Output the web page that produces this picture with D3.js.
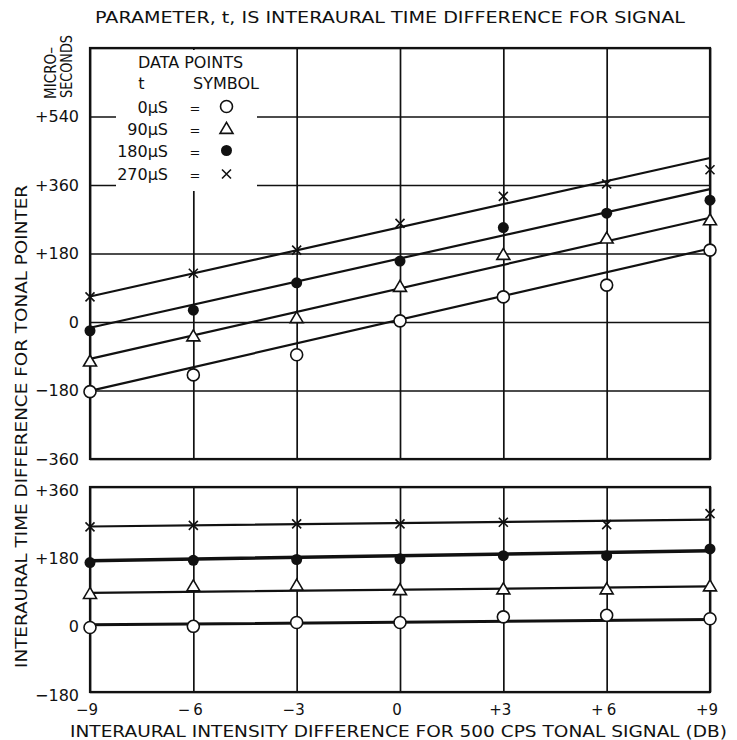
<!DOCTYPE html>
<html>
<head>
<meta charset="utf-8">
<script src="https://cdn.jsdelivr.net/npm/d3@7"></script>
<style>
  html, body { margin: 0; padding: 0; background: #fff; }
  svg { display: block; }
  text { font-family: "DejaVu Sans", "Liberation Sans", sans-serif; fill: #111; }
</style>
</head>
<body>
<svg id="chart" width="737" height="740"></svg>
<script>
// Interaural intensity difference (dB) at which points were measured
const intensityDb = [-9, -6, -3, 0, 3, 6, 9];
const xTickLabels = ["\u22129", "\u2212\u20096", "\u22123", "0", "+3", "+\u20096", "+9"];

// Signal parameter t (interaural time difference) for each series
const seriesLabels = ["0\u03bcS", "90\u03bcS", "180\u03bcS", "270\u03bcS"];
const seriesSymbols = ["circle", "triangle", "dot", "cross"];

// Upper panel: pointer time difference (microseconds) per series
const upper0 = [-183, -139, -86, 3, 66, 97, 189];
const upper90 = [-104, -38, 10, 92, 176, 219, 267];
const upper180 = [-23, 31, 103, 160, 248, 286, 320];
const upper270 = [66, 128, 189, 259, 330, 363, 400];
// Upper panel fitted lines: values at -9 dB and at +9 dB
const upperFitStart = [-181, -97, -15, 67];
const upperFitEnd = [193, 274, 349, 431];

// Lower panel: pointer time difference (microseconds) per series
const lower0 = [-10, -7, 3, 3, 18, 22, 13];
const lower90 = [78, 98, 100, 88, 90, 90, 98];
const lower180 = [161, 167, 169, 171, 179, 179, 197];
const lower270 = [255, 259, 263, 263, 267, 261, 290];
// Lower panel fitted lines: values at -9 dB and at +9 dB
const lowerFitStart = [-3, 81, 166, 256];
const lowerFitEnd = [11, 98, 192, 274];

// Axis ticks
const upperGrid = [720, 540, 360, 180, 0, -180, -360];
const upperTicks = [540, 360, 180, 0, -180, -360];
const upperTickLabels = ["+540", "+360", "+180", "0", "\u2212180", "\u2212360"];
const lowerTicks = [360, 180, 0, -180];
const lowerTickLabels = ["+360", "+180", "0", "\u2212180"];

const svg = d3.select("#chart");

const x = d3.scaleLinear().domain([-9, 9]).range([90, 710]);
const yUp = d3.scaleLinear().domain([-360, 720]).range([459, 48]);
const yLo = d3.scaleLinear().domain([-180, 360]).range([692, 487]);

const ink = "#111";

function drawPanel(y, hGrid, border) {
  const g = svg.append("g");
  const [bottom, top] = y.range();
  // vertical grid lines at each intensity tick
  g.append("g")
    .attr("transform", `translate(0,${bottom})`)
    .call(d3.axisBottom(x).tickValues(intensityDb).tickSize(-(bottom - top)).tickFormat(""))
    .call(s => s.select(".domain").remove())
    .call(s => s.selectAll("line").attr("stroke", ink).attr("stroke-width", 1.7));
  // horizontal grid lines
  g.append("g")
    .attr("transform", `translate(${x.range()[0]},0)`)
    .call(d3.axisLeft(y).tickValues(hGrid).tickSize(-(x.range()[1] - x.range()[0])).tickFormat(""))
    .call(s => s.select(".domain").remove())
    .call(s => s.selectAll("line").attr("stroke", ink).attr("stroke-width", 1.7));
  // frame
  g.append("rect")
    .attr("x", x(-9)).attr("y", top)
    .attr("width", x(9) - x(-9)).attr("height", bottom - top)
    .attr("fill", "none").attr("stroke", ink).attr("stroke-width", border);
  return g;
}

drawPanel(yUp, upperGrid, 2.2);
drawPanel(yLo, [360, -180], 2.2);

// white field behind the legend
svg.append("rect")
  .attr("x", 116).attr("y", 50).attr("width", 141).attr("height", 141)
  .attr("fill", "#fff");

function drawFits(y, starts, ends, widths) {
  starts.forEach((s, i) => {
    svg.append("line")
      .attr("x1", x(-9)).attr("y1", y(s))
      .attr("x2", x(9)).attr("y2", y(ends[i]))
      .attr("stroke", ink).attr("stroke-width", widths[i])
      .attr("stroke-linecap", "round");
  });
}

drawFits(yUp, upperFitStart, upperFitEnd, [2.2, 2.2, 2.2, 2.2]);
drawFits(yLo, lowerFitStart, lowerFitEnd, [3, 2.2, 3.5, 2.2]);

function drawSymbol(g, kind, cx, cy) {
  if (kind === "circle") {
    g.append("circle").attr("cx", cx).attr("cy", cy).attr("r", 6)
      .attr("fill", "#fff").attr("stroke", ink).attr("stroke-width", 1.6);
  } else if (kind === "triangle") {
    const h = 11, w = 13;
    g.append("path")
      .attr("d", `M${cx},${cy - h * 0.6}L${cx + w / 2},${cy + h * 0.4}L${cx - w / 2},${cy + h * 0.4}Z`)
      .attr("fill", "#fff").attr("stroke", ink).attr("stroke-width", 1.6);
  } else if (kind === "dot") {
    g.append("circle").attr("cx", cx).attr("cy", cy).attr("r", 5.5).attr("fill", ink);
  } else {
    const s = 4.5;
    g.append("path")
      .attr("d", `M${cx - s},${cy - s}L${cx + s},${cy + s}M${cx - s},${cy + s}L${cx + s},${cy - s}`)
      .attr("stroke", ink).attr("stroke-width", 1.6).attr("fill", "none");
  }
}

function drawPoints(y, series) {
  const g = svg.append("g");
  series.forEach((vals, i) => {
    vals.forEach((v, j) => drawSymbol(g, seriesSymbols[i], x(intensityDb[j]), y(v)));
  });
}

drawPoints(yUp, [upper0, upper90, upper180, upper270]);
drawPoints(yLo, [lower0, lower90, lower180, lower270]);

// y tick labels
function drawYLabels(y, ticks, labels, dy) {
  svg.append("g").selectAll("text").data(ticks).join("text")
    .attr("x", 79).attr("y", d => y(d) + dy)
    .attr("text-anchor", "end").attr("dominant-baseline", "central")
    .attr("font-size", 16)
    .text((d, i) => labels[i]);
}
drawYLabels(yUp, upperTicks, upperTickLabels, 0);
drawYLabels(yLo, lowerTicks, lowerTickLabels, 3);

// x tick labels
svg.append("g").selectAll("text").data(intensityDb).join("text")
  .attr("x", d => x(d) - 3).attr("y", 715)
  .attr("text-anchor", "middle").attr("font-size", 15)
  .text((d, i) => xTickLabels[i]);

// titles
svg.append("text")
  .attr("x", 95).attr("y", 23).attr("font-size", 16.5)
  .attr("textLength", 590).attr("lengthAdjust", "spacingAndGlyphs")
  .text("PARAMETER, t, IS INTERAURAL TIME DIFFERENCE FOR SIGNAL");

svg.append("text")
  .attr("x", 70).attr("y", 737).attr("font-size", 15.5)
  .attr("textLength", 657).attr("lengthAdjust", "spacingAndGlyphs")
  .text("INTERAURAL INTENSITY DIFFERENCE FOR 500 CPS TONAL SIGNAL (DB)");

svg.append("text")
  .attr("transform", "translate(27,668) rotate(-90)")
  .attr("font-size", 15.5)
  .attr("textLength", 483).attr("lengthAdjust", "spacingAndGlyphs")
  .text("INTERAURAL TIME DIFFERENCE FOR TONAL POINTER");

svg.append("text")
  .attr("transform", "translate(56,99) rotate(-90)")
  .attr("font-size", 15)
  .attr("textLength", 52).attr("lengthAdjust", "spacingAndGlyphs")
  .text("MICRO\u2013");
svg.append("text")
  .attr("transform", "translate(72,98) rotate(-90)")
  .attr("font-size", 15)
  .attr("textLength", 63).attr("lengthAdjust", "spacingAndGlyphs")
  .text("SECONDS");

// legend
const lg = svg.append("g");
lg.append("text").attr("x", 190.5).attr("y", 68).attr("text-anchor", "middle")
  .attr("font-size", 16).text("DATA POINTS");
lg.append("text").attr("x", 141.5).attr("y", 89).attr("text-anchor", "middle")
  .attr("font-size", 16).text("t");
lg.append("text").attr("x", 193).attr("y", 89)
  .attr("font-size", 16).text("SYMBOL");
const rowBase = [112.5, 135, 156.5, 180];
seriesLabels.forEach((lab, i) => {
  lg.append("text").attr("x", 168).attr("y", rowBase[i]).attr("text-anchor", "end")
    .attr("font-size", 16).text(lab);
  lg.append("text").attr("x", 195).attr("y", rowBase[i]).attr("text-anchor", "middle")
    .attr("font-size", 13).text("=");
  drawSymbol(lg, seriesSymbols[i], 226.5, rowBase[i] - 6);
});
</script>
</body>
</html>
